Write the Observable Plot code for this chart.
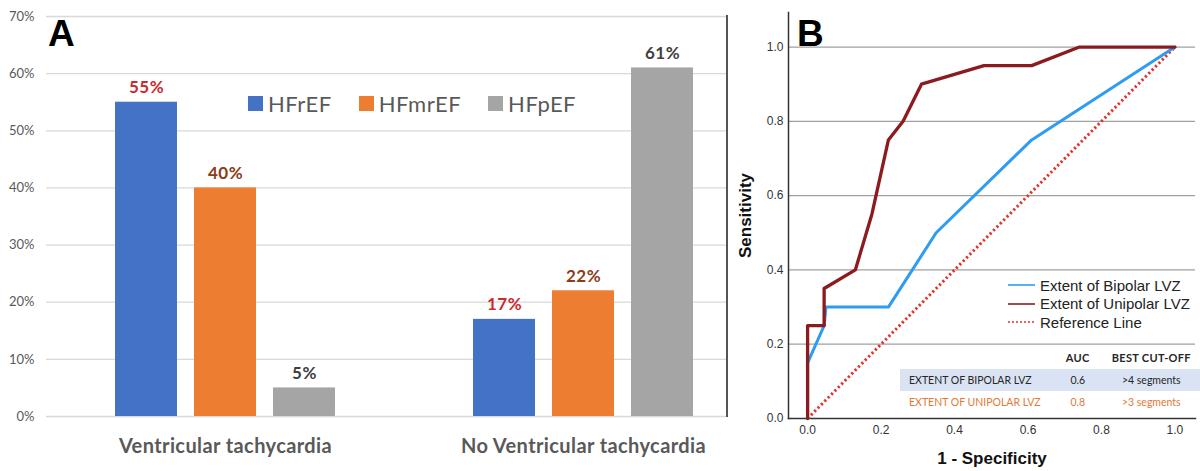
<!DOCTYPE html>
<html><head><meta charset="utf-8">
<script src="https://cdn.jsdelivr.net/npm/d3@7"></script>
<script src="https://cdn.jsdelivr.net/npm/@observablehq/plot@0.6"></script>
<style>
html,body{margin:0;padding:0;background:#fff;}
#wrap{position:relative;width:1200px;height:471px;overflow:hidden;background:#fff;}
#panelA{position:absolute;left:0;top:0;width:728px;height:471px;overflow:hidden;}
#panelA svg, #panelB svg{max-width:none !important;}
#borderA{position:absolute;left:726px;top:15px;width:1.5px;height:402px;background:#555;}
#panelB{position:absolute;left:730px;top:0;}
.plabel{position:absolute;font-family:"Liberation Sans",Arial,sans-serif;font-weight:bold;font-size:37px;line-height:37px;color:#000;}
#legA{position:absolute;left:248px;top:87px;}
#legA .lega{margin:0 !important;}
.lega-swatch{margin-right:27px !important;letter-spacing:0.5px;}
.lega-swatch > svg{margin-right:5px !important;}
#legB{position:absolute;left:1008px;top:276px;font-family:"Liberation Sans",Arial,sans-serif;font-size:15px;color:#222;}
#legB div{display:flex;align-items:center;height:18.5px;white-space:nowrap;}
#legB svg{margin-right:5px;}
#tbl{position:absolute;left:900px;top:346px;border-collapse:collapse;font-family:Lato,sans-serif;font-size:10.5px;color:#262626;}
#tbl td,#tbl th{padding:0;height:22.5px;}
#tbl th{font-weight:bold;font-size:11px;letter-spacing:0.3px;}
#tbl .c1{width:145px;text-align:left;padding-left:9px;}
#tbl .c2{width:50px;text-align:center;}
#tbl .c3{width:98px;text-align:center;}
#tbl tr.r1{background:#dae3f3;}
#tbl tr.r2{color:#e27a36;}
#panelB g[aria-label="y-axis label"] text, #panelB g[aria-label="x-axis label"] text{font-weight:bold;font-size:17px;fill:#111;}
#panelA g[aria-label="fx-axis tick label"] text{letter-spacing:0.4px;}
#panelA g[aria-label="text"] text{letter-spacing:0.5px;}
</style></head>
<body>
<div id="wrap">
  <div id="panelA"></div>
  <div id="borderA"></div>
  <div id="legA"></div>
  <div class="plabel" style="left:48px;top:15px;">A</div>
  <div id="panelB"></div>
  <div class="plabel" style="left:797px;top:15px;">B</div>
  <div id="legB"></div>
  <table id="tbl"></table>
</div>
<script>
// ---------- Panel A data ----------
const categories = ["Ventricular tachycardia", "No Ventricular tachycardia"];
const seriesNames = ["HFrEF", "HFmrEF", "HFpEF"];
const vtValues = [55, 40, 5];
const noVtValues = [17, 22, 61];
const seriesColors = ["#4472c4", "#ed7d31", "#a5a5a5"];
const labelColors = ["#cc2a2e", "#8b3c13", "#404040"];
const yTicksA = [0, 10, 20, 30, 40, 50, 60, 70];

// ---------- Panel B data ----------
const rocTicks = [0, 0.2, 0.4, 0.6, 0.8, 1.0];
const bipolarFPR = [0, 0, 0.045, 0.05, 0.22, 0.35, 0.61, 1];
const bipolarTPR = [0, 0.15, 0.25, 0.30, 0.30, 0.50, 0.75, 1];
const unipolarFPR = [0, 0, 0.045, 0.045, 0.13, 0.175, 0.22, 0.26, 0.31, 0.48, 0.61, 0.74, 1];
const unipolarTPR = [0, 0.25, 0.25, 0.35, 0.40, 0.55, 0.75, 0.80, 0.90, 0.95, 0.95, 1, 1];
const referenceFPR = [0, 1];
const referenceTPR = [0, 1];
const curveNames = ["Extent of Bipolar LVZ", "Extent of Unipolar LVZ", "Reference Line"];
const curveColors = ["#2e9cf2", "#8c1b20", "#e3302a"];
const tableHeader = ["", "AUC", "BEST CUT-OFF"];
const tableNames = ["EXTENT OF BIPOLAR LVZ", "EXTENT OF UNIPOLAR LVZ"];
const aucValues = ["0.6", "0.8"];
const cutoffs = [">4 segments", ">3 segments"];

// ---------- Panel A ----------
const barData = categories.flatMap((c, ci) =>
  seriesNames.map((s, si) => ({category: c, series: s, value: (ci === 0 ? vtValues : noVtValues)[si]})));

const plotA = Plot.plot({
  width: 780, height: 471,
  marginLeft: 45, marginRight: 18, marginTop: 16, marginBottom: 55,
  style: {fontFamily: "Lato, sans-serif", background: "transparent", maxWidth: "none"},
  fx: {domain: categories, padding: 0, label: null},
  x: {domain: seriesNames, paddingInner: 0.21, paddingOuter: 0.86, axis: null},
  y: {domain: [0, 70], axis: null},
  color: {domain: seriesNames, range: seriesColors},
  marks: [
    Plot.gridY(yTicksA, {stroke: "#d9d9d9", strokeOpacity: 1, strokeWidth: 1.3}),
    Plot.axisY(yTicksA, {tickFormat: d => d + "%", tickSize: 0, tickPadding: 12, fontSize: 13, fill: "#595959", label: null}),
    Plot.axisFx({anchor: "bottom", tickSize: 0, tickPadding: 22, fontSize: 20, fontWeight: "bold", fill: "#595959", label: null}),
    Plot.barY(barData, {fx: "category", x: "series", y: "value", fill: "series"}),
    ...seriesNames.map((s, i) => Plot.text(barData, {
      filter: d => d.series === s, fx: "category", x: "series", y: "value",
      text: d => d.value + "%", lineAnchor: "bottom", dy: -9,
      fill: labelColors[i], fontSize: 17, fontWeight: "bold"
    }))
  ]
});
document.getElementById("panelA").appendChild(plotA);

const legA = Plot.legend({
  color: {domain: seriesNames, range: seriesColors},
  legend: "swatches", swatchSize: 15, className: "lega",
  style: {fontSize: "22px", fontFamily: "Lato, sans-serif", color: "#595959"}
});
document.getElementById("legA").appendChild(legA);

// ---------- Panel B ----------
const toPts = (xs, ys) => xs.map((x, i) => ({fpr: x, tpr: ys[i]}));
const plotB = Plot.plot({
  width: 470, height: 471,
  marginLeft: 58, marginRight: 5, marginTop: 12, marginBottom: 53,
  style: {fontFamily: "Liberation Sans, Arial, sans-serif", fontSize: "12px", color: "#333", background: "transparent", maxWidth: "none"},
  x: {domain: [-0.052, 1.056], axis: null},
  y: {domain: [0, 1.093], axis: null},
  marks: [
    Plot.ruleY(rocTicks.filter(d => d > 0), {stroke: "#a0a0a0", strokeWidth: 1.3}),
    Plot.axisY(rocTicks, {tickFormat: d3.format(".1f"), tickSize: 0, tickPadding: 5, fontSize: 12, fill: "#333",
      label: "Sensitivity", labelArrow: "none", labelAnchor: "center", labelOffset: 50}),
    Plot.axisX(rocTicks, {tickFormat: d3.format(".1f"), tickSize: 0, tickPadding: 7, fontSize: 12, fill: "#333",
      label: "1 - Specificity", labelArrow: "none", labelAnchor: "center", labelOffset: 45}),
    Plot.frame({anchor: "left", stroke: "#333", strokeWidth: 1.5}),
    Plot.frame({anchor: "bottom", stroke: "#333", strokeWidth: 1.5}),
    Plot.line(toPts(referenceFPR, referenceTPR), {x: "fpr", y: "tpr", stroke: curveColors[2], strokeWidth: 3, strokeDasharray: "2.2 2.6", strokeLinecap: "butt"}),
    Plot.line(toPts(bipolarFPR, bipolarTPR), {x: "fpr", y: "tpr", stroke: curveColors[0], strokeWidth: 3}),
    Plot.line(toPts(unipolarFPR, unipolarTPR), {x: "fpr", y: "tpr", stroke: curveColors[1], strokeWidth: 3.3})
  ]
});
document.getElementById("panelB").appendChild(plotB);

// legend B
const legB = document.getElementById("legB");
curveNames.forEach((n, i) => {
  const row = document.createElement("div");
  const dash = i === 2 ? 'stroke-dasharray="2 2"' : '';
  row.innerHTML = `<svg width="27" height="4"><line x1="0" y1="2" x2="27" y2="2" stroke="${curveColors[i]}" stroke-width="1.6" ${dash}/></svg><span>${n}</span>`;
  legB.appendChild(row);
});

// table
const tbl = document.getElementById("tbl");
let html = `<tr><th class="c1">${tableHeader[0]}</th><th class="c2">${tableHeader[1]}</th><th class="c3">${tableHeader[2]}</th></tr>`;
tableNames.forEach((n, i) => {
  html += `<tr class="r${i + 1}"><td class="c1">${n}</td><td class="c2">${aucValues[i]}</td><td class="c3">${cutoffs[i]}</td></tr>`;
});
tbl.innerHTML = html;
</script>
</body></html>
